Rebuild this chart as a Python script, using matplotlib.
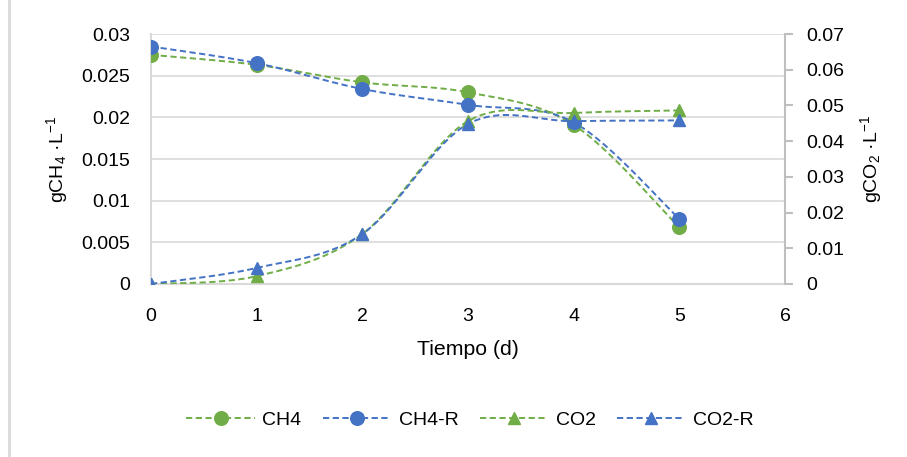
import numpy as np
import matplotlib
matplotlib.use("Agg")
import matplotlib.pyplot as plt
from matplotlib.lines import Line2D
from matplotlib.ticker import FuncFormatter

plt.rcParams["font.family"] = ["Liberation Sans", "DejaVu Sans"]
plt.rcParams["mathtext.fontset"] = "custom"
plt.rcParams["mathtext.rm"] = "Liberation Sans"
plt.rcParams["mathtext.it"] = "Liberation Sans:italic"
plt.rcParams["mathtext.bf"] = "Liberation Sans:bold"

# Measurement days
dias = [0, 1, 2, 3, 4, 5]

# Methane concentration (g/L), left axis
ch4 = [0.0275, 0.0263, 0.0242, 0.0230, 0.0191, 0.0068]
ch4_r = [0.0285, 0.0265, 0.0234, 0.0215, 0.0194, 0.0078]

# Carbon dioxide concentration (g/L), right axis
co2 = [0.0, 0.0022, 0.0140, 0.0456, 0.0479, 0.0486]
co2_r = [0.0, 0.0045, 0.0140, 0.0448, 0.0456, 0.0458]

VERDE = "#70AD47"
AZUL = "#4472C4"
GRIS = "#D9D9D9"
FS_TICK = 14
FS_TITLE = 15.3
FS_LEG = 14


def suavizar(x, y, n=40):
    """Bezier smoothing through every point (Catmull-Rom style control points)."""
    p = np.column_stack([x, y]).astype(float)
    ext = np.vstack([p[0], p, p[-1]])
    out = []
    t = np.linspace(0, 1, n)[:, None]
    for i in range(len(p) - 1):
        p0, p1, p2, p3 = ext[i], ext[i + 1], ext[i + 2], ext[i + 3]
        c1 = p1 + (p2 - p0) / 6.0
        c2 = p2 - (p3 - p1) / 6.0
        seg = ((1 - t) ** 3) * p1 + 3 * ((1 - t) ** 2) * t * c1 + 3 * (1 - t) * t ** 2 * c2 + t ** 3 * p2
        out.append(seg if i == 0 else seg[1:])
    s = np.vstack(out)
    return s[:, 0], s[:, 1]


fig = plt.figure(figsize=(9.07, 4.57), dpi=100)
ax = fig.add_axes([151 / 907, 1 - 284 / 457, (785 - 151) / 907, (284 - 34) / 457])
ax2 = ax.twinx()

dash = (0, (3.2, 1.8))
lw = 1.4
for y, c in [(ch4, VERDE), (ch4_r, AZUL)]:
    xs, ys = suavizar(dias, y)
    ax.plot(xs, ys, color=c, lw=lw, linestyle=dash, zorder=3)
    ax.plot(dias, y, linestyle="none", marker="o", ms=9.8, color=c, zorder=4)
for y, c in [(co2, VERDE), (co2_r, AZUL)]:
    xs, ys = suavizar(dias, y)
    ax2.plot(xs, ys, color=c, lw=lw, linestyle=dash, zorder=3)
    ax2.plot(dias, y, linestyle="none", marker="^", ms=9.2, color=c, zorder=4)

ax.set_xlim(0, 6)
ax.set_ylim(0, 0.03)
ax2.set_ylim(0, 0.07)
ax.set_xticks(range(0, 7))
ax.set_yticks(np.arange(0, 0.0301, 0.005))
ax2.set_yticks(np.arange(0, 0.0701, 0.01))

fmt = FuncFormatter(lambda v, _: ("%g" % round(v, 4)))
ax.yaxis.set_major_formatter(fmt)
ax2.yaxis.set_major_formatter(fmt)

ax.grid(axis="y", color=GRIS, lw=1.2, zorder=0)
ax.set_axisbelow(True)
ax.spines["top"].set_visible(False)
ax2.spines["top"].set_visible(False)
ax.spines["right"].set_visible(False)
ax2.spines["left"].set_visible(False)
ax2.spines["bottom"].set_visible(False)
ax.spines["left"].set_color(GRIS)
ax.spines["left"].set_linewidth(1.5)
ax.spines["bottom"].set_color(GRIS)
ax.spines["bottom"].set_linewidth(1.5)
ax2.spines["right"].set_color("#BFBFBF")
ax2.spines["right"].set_linewidth(1.5)

ax.tick_params(axis="x", length=0, pad=17, labelsize=FS_TICK)
ax.tick_params(axis="y", length=0, pad=15, labelsize=FS_TICK)
ax2.tick_params(axis="y", length=6, width=1.5, color="#BFBFBF", pad=9, labelsize=FS_TICK)

ax.set_xlabel("Tiempo (d)", fontsize=FS_TITLE, labelpad=11)
ax.set_ylabel(r"gCH$_4$ ·L$^{-1}$", fontsize=FS_TICK, labelpad=8)
ax2.set_ylabel(r"gCO$_2$ ·L$^{-1}$", fontsize=FS_TICK, labelpad=10)

handles = [
    Line2D([], [], color=VERDE, lw=lw, linestyle=dash, marker="o", ms=9.8),
    Line2D([], [], color=AZUL, lw=lw, linestyle=dash, marker="o", ms=9.8),
    Line2D([], [], color=VERDE, lw=lw, linestyle=dash, marker="^", ms=9.2),
    Line2D([], [], color=AZUL, lw=lw, linestyle=dash, marker="^", ms=9.2),
]
fig.legend(handles, ["CH4", "CH4-R", "CO2", "CO2-R"], loc="center",
           bbox_to_anchor=(470 / 907, 1 - 420 / 457), ncol=4, frameon=False,
           fontsize=FS_LEG, handlelength=3.5, handletextpad=0.4, columnspacing=1.1)

# thin frame line on the left edge
fig.add_artist(Line2D([9 / 907, 9 / 907], [0, 1], transform=fig.transFigure,
                      color=GRIS, lw=2))

fig.savefig("out.png", dpi=100)
